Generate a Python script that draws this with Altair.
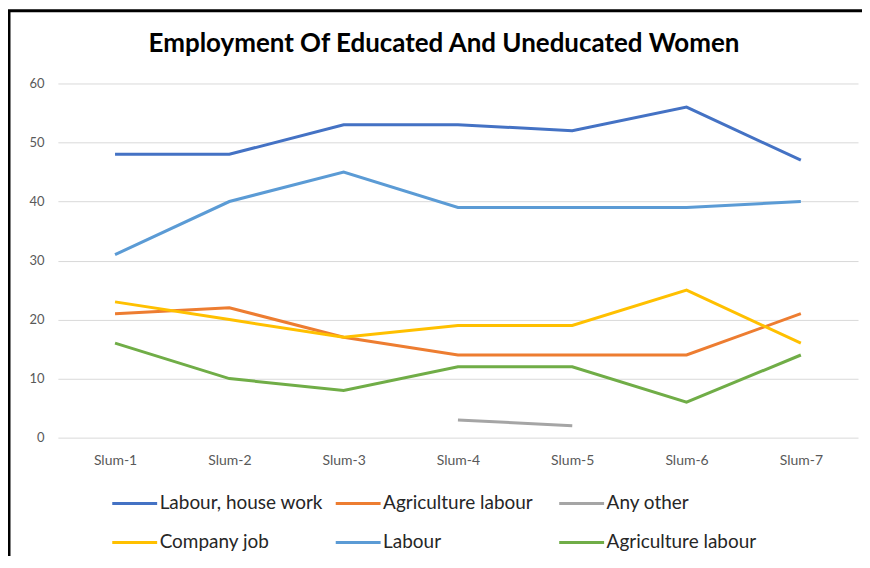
import altair as alt
import pandas as pd

slums = ["Slum-1", "Slum-2", "Slum-3", "Slum-4", "Slum-5", "Slum-6", "Slum-7"]
series_ids = ["s1", "s2", "s3", "s4", "s5", "s6"]
series_names = ["Labour, house work", "Agriculture labour", "Any other",
                "Company job", "Labour", "Agriculture labour"]
series_colors = ["#4472C4", "#ED7D31", "#A5A5A5", "#FFC000", "#5B9BD5", "#70AD47"]
title_text = "Employment Of Educated And Uneducated Women"

labour_house_work = [48, 48, 53, 53, 52, 56, 47]
agriculture_labour_a = [21, 22, 17, 14, 14, 14, 21]
any_other = [None, None, None, 3, 2, None, None]
company_job = [23, 20, 17, 19, 19, 25, 16]
labour = [31, 40, 45, 39, 39, 39, 40]
agriculture_labour_b = [16, 10, 8, 12, 12, 6, 14]

all_values = [labour_house_work, agriculture_labour_a, any_other,
              company_job, labour, agriculture_labour_b]

rows = []
for sid, vals in zip(series_ids, all_values):
    for s, v in zip(slums, vals):
        if v is not None:
            rows.append({"slum": s, "series": sid, "value": v})
df = pd.DataFrame(rows)

label_map = "{" + ",".join(f"'{i}':'{n}'" for i, n in zip(series_ids, series_names)) + "}"

FONT = "Lato"

lines = alt.Chart(df).mark_line(strokeWidth=3).encode(
    x=alt.X("slum:N", sort=slums, title=None,
            scale=alt.Scale(paddingOuter=0.5),
            axis=alt.Axis(labelAngle=0, domain=False, ticks=False, grid=False,
                          labelFontSize=14, labelFont=FONT, labelColor="#595959",
                          labelPadding=16)),
    y=alt.Y("value:Q", title=None,
            scale=alt.Scale(domain=[0, 60], nice=False),
            axis=alt.Axis(values=[0, 10, 20, 30, 40, 50, 60], domain=False, ticks=False,
                          gridColor="#D9D9D9", gridWidth=1,
                          labelFontSize=13, labelFont=FONT, labelColor="#595959",
                          labelPadding=14)),
    color=alt.Color("series:N",
                    scale=alt.Scale(domain=series_ids, range=series_colors),
                    legend=alt.Legend(
                        title=None, orient="none", legendX=53, legendY=397,
                        columns=3, direction="horizontal",
                        symbolType="M-1,0H1", symbolSize=2025, symbolStrokeWidth=3,
                        labelFontSize=19, labelFont=FONT, labelColor="#262626",
                        labelLimit=400,
                        labelExpr=f"{label_map}[datum.label]",
                        gridAlign="all", columnPadding=6, rowPadding=5,
                        labelOffset=1)),
    order=alt.Order("slum:N"),
)

one = pd.DataFrame({"t": [title_text]})
title_mark = alt.Chart(one).mark_text(
    font=FONT, fontSize=26, fontWeight="bold", color="black",
    align="center", baseline="middle").encode(
    x=alt.value(387), y=alt.value(-40), text="t:N")

left_border = alt.Chart(one).mark_rule(color="black", strokeWidth=3).encode(
    x=alt.value(-49), y=alt.value(-73), y2=alt.value(480))
top_border = alt.Chart(one).mark_rule(color="black", strokeWidth=3).encode(
    x=alt.value(-50), x2=alt.value(812), y=alt.value(-73))

chart = alt.layer(lines, title_mark, left_border, top_border).properties(
    width=802, height=355,
    autosize=alt.AutoSizeParams(type="none"),
    padding={"left": 50, "top": 75, "right": 4, "bottom": 118},
).configure(background="white").configure_view(stroke=None)

chart.save("out.html", embed_options={"renderer": "svg", "actions": False})
